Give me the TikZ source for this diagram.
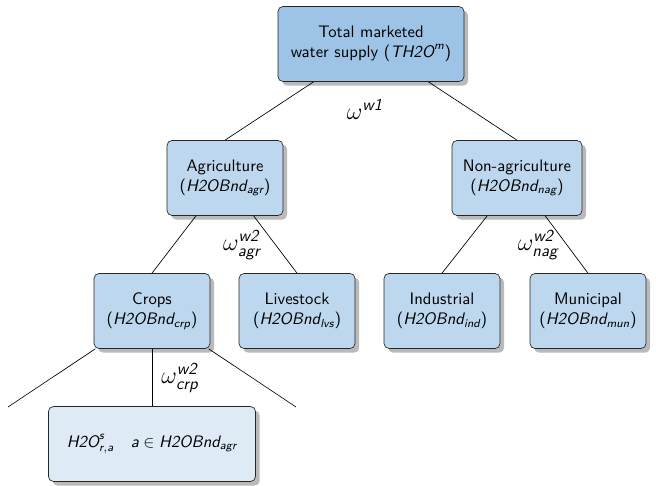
\documentclass[tikz,border=0pt]{standalone}
\usepackage{amsmath}
\usetikzlibrary{shadows}
\renewcommand{\familydefault}{\sfdefault}
\newcommand{\mv}[1]{\textit{#1}}
\definecolor{topblue}{RGB}{157,195,230}
\definecolor{midblue}{RGB}{189,215,238}
\definecolor{lowblue}{RGB}{222,235,247}

\begin{document}
\begin{tikzpicture}[x=0.6pt, y=-0.6pt,
        box/.style={draw=black!85, rounded corners=3pt, fill=midblue, align=center, minimum width=69.6pt, minimum height=45pt,
            drop shadow={shadow xshift=2.5pt, shadow yshift=-2.5pt, opacity=0.45, fill=black!60}},
        weight/.style={font=\Large, inner sep=1pt}]
        \useasboundingbox (0,0) rectangle (656,486);

        % Boxes
        \node[box, fill=topblue, minimum width=111.6pt] (total) at (371,44) {Total marketed\\water supply ($\mv{TH2O}^{\mv{m}}$)};
        \node[box] (agr) at (225,178) {Agriculture\\($\mv{H2OBnd}_{\mv{agr}}$)};
        \node[box, minimum width=78pt] (nag) at (517,178) {Non-agriculture\\($\mv{H2OBnd}_{\mv{nag}}$)};
        \node[box] (crp) at (152,311) {Crops\\($\mv{H2OBnd}_{\mv{crp}}$)};
        \node[box] (lvs) at (297,311) {Livestock\\($\mv{H2OBnd}_{\mv{lvs}}$)};
        \node[box] (ind) at (442,311) {Industrial\\($\mv{H2OBnd}_{\mv{ind}}$)};
        \node[box] (mun) at (588,311) {Municipal\\($\mv{H2OBnd}_{\mv{mun}}$)};
        \node[box, fill=lowblue, minimum width=124.2pt] (land) at (152,444) {$\mv{H2O}^{\mv{s}}_{\mv{r},\mv{a}}\quad \mv{a}\in \mv{H2OBnd}_{\mv{agr}}$};

        % free ends below Crops
        \coordinate (crpl) at (8,407);
        \coordinate (crpr) at (296,407);

        % Tree lines
        \draw (agr.north) -- (total);
        \draw (nag.north) -- (total);
        \draw (crp.north) -- (agr);
        \draw (lvs.north) -- (agr);
        \draw (ind.north) -- (nag);
        \draw (mun.north) -- (nag);
        \draw (crpl) -- (crp);
        \draw (crpr) -- (crp);
        \draw (land.north) -- (crp);

        % Weights
        \node[weight] (w1) at (365,109) {$\omega^{\mv{w1}}$};
        \node[weight] (w2agr) at (242,245) {$\omega^{\mv{w2}}_{\mv{agr}}$};
        \node[weight] (w2nag) at (538,245) {$\omega^{\mv{w2}}_{\mv{nag}}$};
        \node[weight] (w2crp) at (180,378) {$\omega^{\mv{w2}}_{\mv{crp}}$};
\end{tikzpicture}
\end{document}
